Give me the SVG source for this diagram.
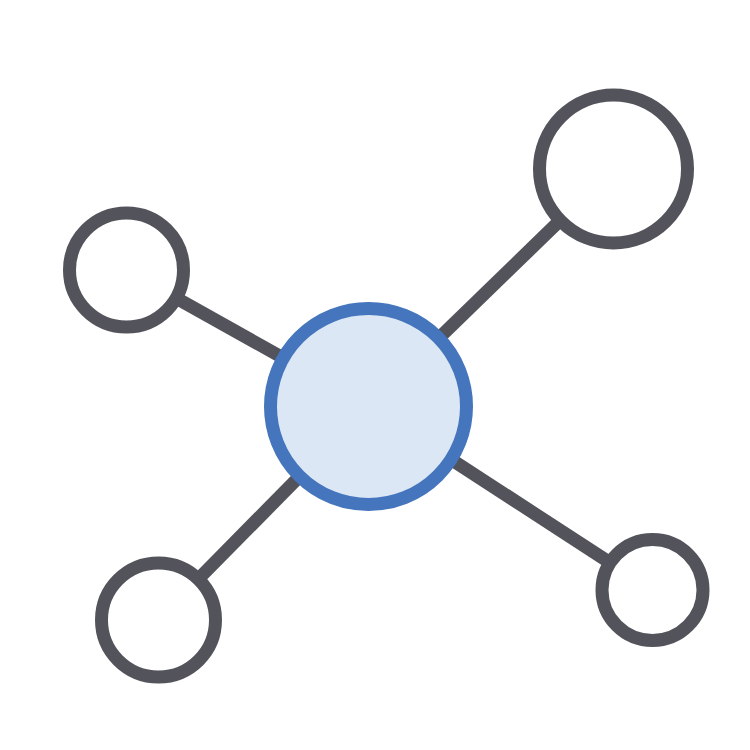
<svg xmlns="http://www.w3.org/2000/svg" width="750" height="750" viewBox="0 0 750 750">
<style>
.edge{stroke:#53535b;stroke-width:13;fill:none}
.leaf{fill:#ffffff;stroke:#53535b;stroke-width:13}
.hub{fill:#dce7f5;stroke:#4475bd;stroke-width:13}
</style>
<rect width="750" height="750" fill="#ffffff"/>
<g id="connectors">
<line class="edge" x1="369" y1="406" x2="613" y2="169"/>
<line class="edge" x1="369" y1="406" x2="126" y2="270"/>
<line class="edge" x1="369" y1="406" x2="158" y2="620"/>
<line class="edge" x1="369" y1="406" x2="652" y2="590"/>
</g>
<g id="node-top-right"><circle class="leaf" cx="613.5" cy="169" r="74"/></g>
<g id="node-left"><circle class="leaf" cx="126.5" cy="270" r="57"/></g>
<g id="node-bottom-left"><circle class="leaf" cx="158.5" cy="620" r="57"/></g>
<g id="node-bottom-right"><circle class="leaf" cx="652.5" cy="590" r="50.5"/></g>
<g id="node-hub"><circle class="hub" cx="368.5" cy="406.5" r="98"/></g>
</svg>
